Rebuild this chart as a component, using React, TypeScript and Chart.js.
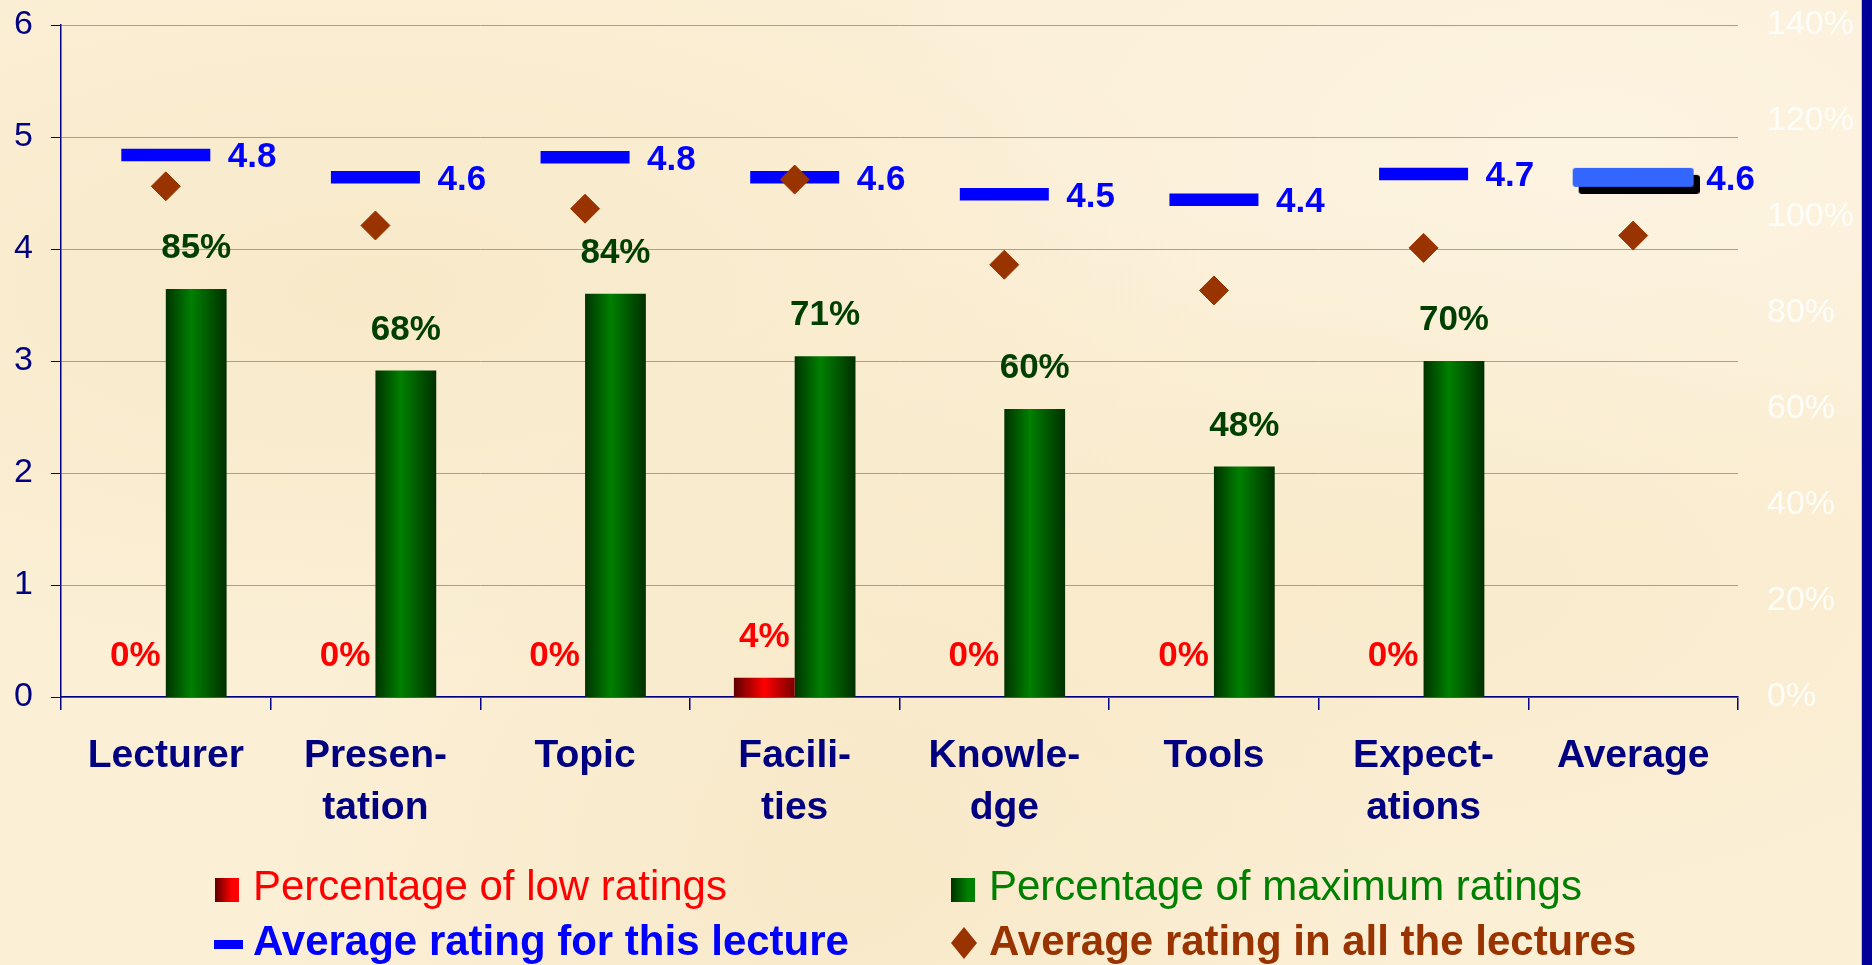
import React, { useEffect, useRef } from 'react';
import { Chart, registerables } from 'chart.js';

Chart.register(...registerables);

// ---------- data ----------
const categories: string[][] = [
  ['Lecturer'],
  ['Presen-', 'tation'],
  ['Topic'],
  ['Facili-', 'ties'],
  ['Knowle-', 'dge'],
  ['Tools'],
  ['Expect-', 'ations'],
  ['Average'],
];
const lowRatingsPct: (number | null)[] = [0, 0, 0, 4, 0, 0, 0, null];
const maxRatingsPct: (number | null)[] = [85, 68, 84, 71, 60, 48, 70, null];
const lectureAverage: number[] = [4.84, 4.64, 4.82, 4.64, 4.49, 4.44, 4.67, 4.64];
const allLecturesAverage: number[] = [4.56, 4.21, 4.36, 4.62, 3.86, 3.63, 4.01, 4.12];
const ratingAxis = { min: 0, max: 6, step: 1 };
const percentAxis = { min: 0, max: 140, step: 20 };
const seriesNames = [
  'Percentage of low ratings',
  'Percentage of maximum ratings',
  'Average rating for this lecture',
  'Average rating in all the lectures',
];

// ---------- styles ----------
const FONT = "'Liberation Sans', Arial, Helvetica, sans-serif";
const NAVY = '#000080';
const CAT_PCT = 0.58;
const RED_STOPS: [number, string][] = [[0, '#5e0000'], [0.5, '#ff0000'], [1, '#7a0000']];
const GREEN_STOPS: [number, string][] = [[0, '#003300'], [0.42, '#008000'], [1, '#003000']];

function cylinder(stops: [number, string][], side: number) {
  return (ctx: any) => {
    const chart = ctx.chart;
    const xs = chart.scales && chart.scales.x;
    if (ctx.dataIndex === undefined || !xs || !chart.chartArea) return stops[1][1];
    const center = xs.getPixelForValue(ctx.dataIndex);
    const barW = (xs.width / categories.length) * CAT_PCT / 2;
    const left = side < 0 ? center - barW : center;
    const g = chart.ctx.createLinearGradient(left, 0, left + barW, 0);
    stops.forEach(([o, c]) => g.addColorStop(o, c));
    return g;
  };
}

function roundRect(c: CanvasRenderingContext2D, x: number, y: number, w: number, h: number, r: number) {
  c.beginPath();
  c.moveTo(x + r, y);
  c.lineTo(x + w - r, y);
  c.quadraticCurveTo(x + w, y, x + w, y + r);
  c.lineTo(x + w, y + h - r);
  c.quadraticCurveTo(x + w, y + h, x + w - r, y + h);
  c.lineTo(x + r, y + h);
  c.quadraticCurveTo(x, y + h, x, y + h - r);
  c.lineTo(x, y + r);
  c.quadraticCurveTo(x, y, x + r, y);
  c.closePath();
  c.fill();
}

const LEGEND_POS = [
  { mx: 215, tx: 253, base: 900 },
  { mx: 951, tx: 989, base: 900 },
  { mx: 214, tx: 253, base: 955 },
  { mx: 951, tx: 989, base: 955 },
];
const LEGEND_COLORS = ['#FF0000', '#008000', '#0000FF', '#993300'];

export default function App() {
  const ref = useRef<HTMLCanvasElement>(null);

  useEffect(() => {
    const canvas = ref.current;
    if (!canvas) return;
    const avgIdx = categories.length - 1;

    // marker for the "Average" category: light blue bar with a black shadow
    const avgMarker = document.createElement('canvas');
    avgMarker.width = 133;
    avgMarker.height = 33;
    const m = avgMarker.getContext('2d')!;
    m.fillStyle = '#000000';
    roundRect(m, 12, 14, 121, 19, 3);
    m.fillStyle = '#3366FF';
    roundRect(m, 6, 7, 121, 19, 3);

    const valueLabels = {
      id: 'valueLabels',
      afterDatasetsDraw(chart: any) {
        const c: CanvasRenderingContext2D = chart.ctx;
        c.save();
        c.font = `bold 35px ${FONT}`;
        c.textBaseline = 'alphabetic';
        c.textAlign = 'center';
        [0, 1].forEach((di) => {
          const meta = chart.getDatasetMeta(di);
          const data = chart.data.datasets[di].data;
          c.fillStyle = di === 0 ? '#FF0000' : '#003F00';
          meta.data.forEach((el: any, i: number) => {
            const v = data[i];
            if (v === null || v === undefined) return;
            c.fillText(`${v}%`, el.x, el.y - 31);
          });
        });
        const lm = chart.getDatasetMeta(2);
        c.textAlign = 'left';
        c.fillStyle = '#0000FF';
        lm.data.forEach((el: any, i: number) => {
          c.fillText(lectureAverage[i].toFixed(1), el.x + (i === avgIdx ? 73 : 62), el.y + 12.5);
        });
        c.restore();
      },
    };

    const slideLegend = {
      id: 'slideLegend',
      afterDraw(chart: any) {
        const c: CanvasRenderingContext2D = chart.ctx;
        c.save();
        chart.data.datasets.forEach((ds: any, i: number) => {
          const p = LEGEND_POS[i];
          const col = LEGEND_COLORS[i];
          if (i === 0 || i === 1) {
            const stops = i === 0 ? RED_STOPS : GREEN_STOPS;
            const g = c.createLinearGradient(p.mx, 0, p.mx + 24, 0);
            g.addColorStop(0, stops[0][1]);
            g.addColorStop(0.7, stops[1][1]);
            g.addColorStop(1, stops[1][1]);
            c.fillStyle = g;
            c.fillRect(p.mx, p.base - 22, 24, 24);
          } else if (i === 2) {
            c.fillStyle = col;
            c.fillRect(p.mx, p.base - 15, 29, 9);
          } else {
            const cx = p.mx + 13;
            const cy = p.base - 12;
            c.fillStyle = col;
            c.beginPath();
            c.moveTo(cx, cy - 16);
            c.lineTo(cx + 13, cy);
            c.lineTo(cx, cy + 16);
            c.lineTo(cx - 13, cy);
            c.closePath();
            c.fill();
          }
          c.font = `${i >= 2 ? 'bold ' : ''}42px ${FONT}`;
          c.fillStyle = col;
          c.textAlign = 'left';
          c.textBaseline = 'alphabetic';
          c.fillText(ds.label, p.tx, p.base);
        });
        c.restore();
      },
    };

    const chart = new Chart(canvas, {
      type: 'bar',
      data: {
        labels: categories,
        datasets: [
          {
            type: 'bar',
            label: seriesNames[0],
            data: lowRatingsPct,
            yAxisID: 'y2',
            backgroundColor: cylinder(RED_STOPS, -1),
            borderWidth: 0,
            categoryPercentage: CAT_PCT,
            barPercentage: 1,
            order: 3,
          },
          {
            type: 'bar',
            label: seriesNames[1],
            data: maxRatingsPct,
            yAxisID: 'y2',
            backgroundColor: cylinder(GREEN_STOPS, 1),
            borderWidth: 0,
            categoryPercentage: CAT_PCT,
            barPercentage: 1,
            order: 4,
          },
          {
            type: 'line',
            label: seriesNames[2],
            data: lectureAverage,
            yAxisID: 'y',
            showLine: false,
            pointStyle: lectureAverage.map((_, i) => (i === avgIdx ? avgMarker : 'line')),
            pointRadius: 44.5,
            pointBorderWidth: 12.5,
            pointBorderColor: '#0000FF',
            pointBackgroundColor: '#0000FF',
            order: 2,
          },
          {
            type: 'line',
            label: seriesNames[3],
            data: allLecturesAverage,
            yAxisID: 'y',
            showLine: false,
            pointStyle: 'rectRot',
            pointRadius: 14.5,
            pointBorderWidth: 1,
            pointBackgroundColor: '#993300',
            pointBorderColor: '#993300',
            order: 1,
          },
        ] as any,
      },
      options: {
        animation: false,
        responsive: true,
        maintainAspectRatio: false,
        events: [],
        layout: { autoPadding: false, padding: { top: 25, left: 0, right: 8, bottom: 111 } },
        plugins: {
          legend: { display: false },
          tooltip: { enabled: false },
          title: { display: false },
        },
        scales: {
          x: {
            offset: true,
            grid: {
              offset: true,
              drawOnChartArea: false,
              drawTicks: true,
              tickLength: 13,
              tickColor: NAVY,
              lineWidth: 1.5,
            },
            border: { color: NAVY, width: 1.5 },
            ticks: {
              color: NAVY,
              font: { family: FONT, size: 39, weight: 'bold', lineHeight: 1.333 },
              padding: 20,
              maxRotation: 0,
              autoSkip: false,
            },
          },
          y: {
            position: 'left',
            min: ratingAxis.min,
            max: ratingAxis.max,
            ticks: {
              stepSize: ratingAxis.step,
              color: NAVY,
              font: { family: FONT, size: 34 },
              padding: 18,
            },
            grid: { color: '#A0A0A0', tickColor: NAVY, tickLength: 10, lineWidth: 1 },
            border: { color: NAVY, width: 1.5 },
            afterFit: (s: any) => {
              s.width = 61;
              s.paddingTop = 0;
              s.paddingBottom = 0;
            },
          },
          y2: {
            position: 'right',
            min: percentAxis.min,
            max: percentAxis.max,
            ticks: {
              stepSize: percentAxis.step,
              callback: (v: any) => `${v}%`,
              color: 'rgba(255,255,255,0.85)',
              font: { family: FONT, size: 34 },
              padding: 29,
            },
            grid: { display: false, drawTicks: false },
            border: { display: false },
            afterFit: (s: any) => {
              s.width = 116;
              s.paddingTop = 0;
              s.paddingBottom = 0;
            },
          },
        },
      } as any,
      plugins: [valueLabels, slideLegend],
    });

    return () => chart.destroy();
  }, []);

  return (
    <div
      style={{
        position: 'fixed',
        left: 0,
        top: 0,
        width: 1872,
        height: 965,
        overflow: 'hidden',
        backgroundColor: '#FBEFD6',
        backgroundImage:
          'radial-gradient(ellipse at 20% 30%, rgba(245,228,190,0.55), rgba(0,0,0,0) 40%),' +
          'radial-gradient(ellipse at 70% 60%, rgba(246,230,192,0.5), rgba(0,0,0,0) 45%),' +
          'radial-gradient(ellipse at 45% 90%, rgba(244,226,186,0.5), rgba(0,0,0,0) 40%),' +
          'radial-gradient(ellipse at 85% 15%, rgba(253,246,232,0.6), rgba(0,0,0,0) 35%)',
      }}
    >
      <div style={{ position: 'absolute', left: 0, top: 0, width: 1862, height: 965 }}>
        <canvas ref={ref} />
      </div>
      <div
        style={{
          position: 'absolute',
          left: 1861,
          top: 0,
          width: 11,
          height: 965,
          background: '#000099',
          borderLeft: '1px solid #E8B890',
          boxSizing: 'border-box',
        }}
      />
    </div>
  );
}
